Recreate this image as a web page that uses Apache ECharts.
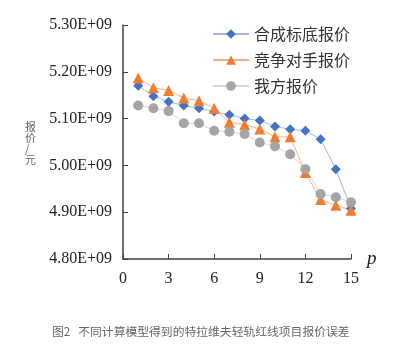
<!DOCTYPE html>
<html>
<head>
<meta charset="utf-8">
<script src="https://cdn.jsdelivr.net/npm/echarts@6/dist/echarts.min.js"></script>
<style>
  html, body { margin: 0; padding: 0; background: #fff; }
  #chart { width: 409px; height: 354px; }
</style>
</head>
<body>
<div id="chart"></div>
<script>
// data
const periods = [1, 2, 3, 4, 5, 6, 7, 8, 9, 10, 11, 12, 13, 14, 15];
const xTicks = [0, 3, 6, 9, 12, 15];
const seriesNames = ['合成标底报价', '竞争对手报价', '我方报价'];
const baseBid = [5.170e9, 5.148e9, 5.136e9, 5.128e9, 5.122e9, 5.115e9, 5.108e9, 5.100e9,
  5.096e9, 5.083e9, 5.077e9, 5.074e9, 5.056e9, 4.992e9, 4.908e9];
const rivalBid = [5.187e9, 5.166e9, 5.160e9, 5.144e9, 5.138e9, 5.122e9, 5.092e9, 5.087e9,
  5.078e9, 5.061e9, 5.061e9, 4.985e9, 4.927e9, 4.915e9, 4.904e9];
const ourBid = [5.128e9, 5.122e9, 5.116e9, 5.090e9, 5.090e9, 5.074e9, 5.072e9, 5.067e9,
  5.049e9, 5.041e9, 5.024e9, 4.992e9, 4.939e9, 4.932e9, 4.921e9];
const caption = '图2   不同计算模型得到的特拉维夫轻轨红线项目报价误差';

const chart = echarts.init(document.getElementById('chart'));

const pair = (vals) => periods.map((p, i) => [p, vals[i]]);
const serif = '"Liberation Serif", "DejaVu Serif", serif';
const cjk = '"Noto Sans CJK SC", sans-serif';

const option = {
  animation: false,
  grid: { left: 123, right: 58, top: 25, bottom: 95 },
  legend: {
    orient: 'vertical',
    left: 212,
    top: 26,
    padding: 0,
    itemWidth: 36,
    itemHeight: 12,
    itemGap: 10,
    textStyle: { fontFamily: cjk, fontSize: 16, lineHeight: 16, color: '#333' },
    data: seriesNames
  },
  xAxis: {
    type: 'value',
    min: 0,
    max: 15,
    interval: 3,
    name: 'p',
    nameLocation: 'end',
    nameGap: 16,
    nameTextStyle: { fontFamily: serif, fontStyle: 'italic', fontSize: 19, color: '#222', padding: [0, 0, 10, 0] },
    axisLine: { lineStyle: { color: '#404040', width: 1.5 } },
    axisTick: { inside: true, length: 5, lineStyle: { color: '#404040' } },
    axisLabel: {
      margin: 12,
      fontFamily: serif,
      fontSize: 16,
      color: '#222',
      formatter: (v) => (xTicks.includes(v) ? String(v) : '')
    },
    splitLine: { show: false }
  },
  yAxis: {
    type: 'value',
    min: 4.8e9,
    max: 5.3e9,
    interval: 1e8,
    axisLine: { show: true, lineStyle: { color: '#404040', width: 1.5 } },
    axisTick: { show: true, inside: true, length: 5, lineStyle: { color: '#404040' } },
    axisLabel: {
      margin: 11,
      fontFamily: serif,
      fontSize: 16,
      color: '#222',
      formatter: (v) => (v / 1e9).toFixed(2) + 'E+09'
    },
    splitLine: { show: false }
  },
  graphic: [
    {
      type: 'text',
      left: 25,
      top: 121,
      style: {
        text: '报\n价\n/\n元',
        fontFamily: cjk,
        fontSize: 11,
        lineHeight: 11,
        fill: '#666',
        align: 'center'
      }
    },
    {
      type: 'text',
      left: 52,
      top: 326,
      style: { text: caption, fontFamily: cjk, fontSize: 11.8, fill: '#666' }
    }
  ],
  series: [
    {
      name: seriesNames[0],
      type: 'line',
      data: pair(baseBid),
      symbol: 'diamond',
      symbolSize: 10,
      itemStyle: { color: '#4472C4' },
      lineStyle: { color: '#9DB9E3', width: 1 }
    },
    {
      name: seriesNames[1],
      type: 'line',
      data: pair(rivalBid),
      symbol: 'triangle',
      symbolSize: 11,
      itemStyle: { color: '#ED7D31' },
      lineStyle: { color: '#F4B183', width: 1 }
    },
    {
      name: seriesNames[2],
      type: 'line',
      data: pair(ourBid),
      symbol: 'circle',
      symbolSize: 10,
      itemStyle: { color: '#A5A5A5' },
      lineStyle: { color: '#D6D6D6', width: 1 }
    }
  ]
};

chart.setOption(option);
</script>
</body>
</html>
